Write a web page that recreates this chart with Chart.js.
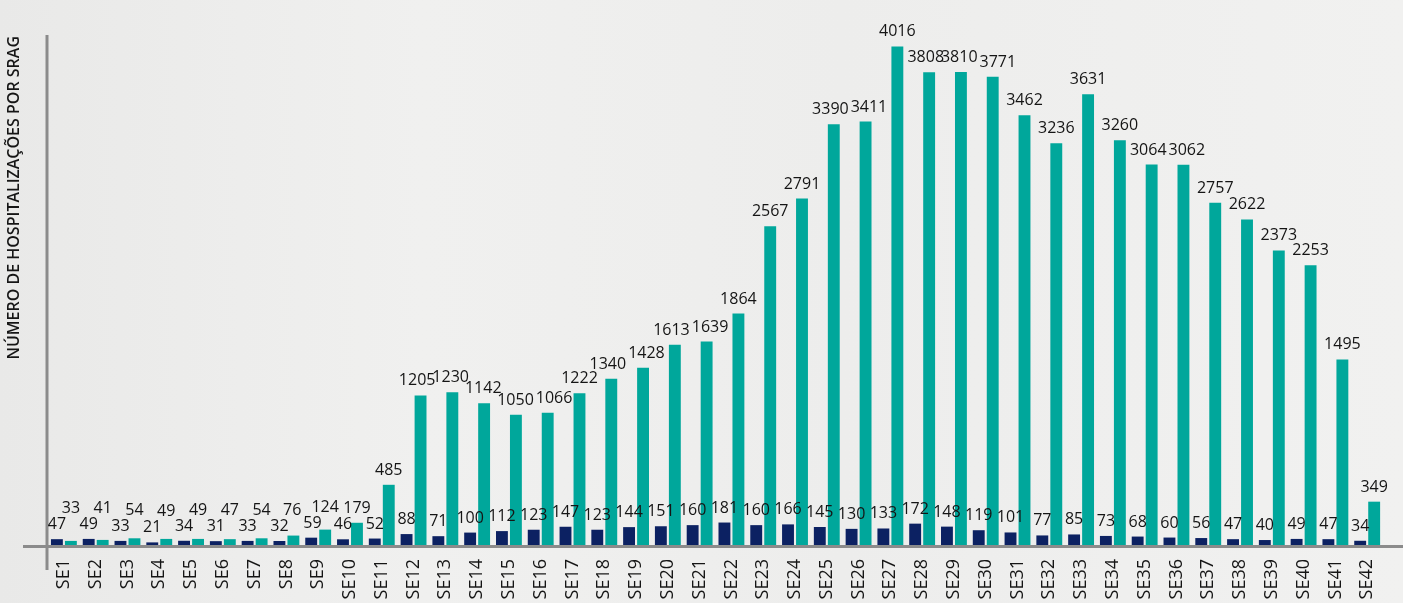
<!DOCTYPE html>
<html>
<head>
<meta charset="utf-8">
<script src="https://cdn.jsdelivr.net/npm/chart.js@4.4.1/dist/chart.umd.min.js"></script>
<style>
  html, body { margin: 0; padding: 0; }
  body {
    width: 1403px; height: 603px; overflow: hidden;
    background: linear-gradient(90deg, #e9e9e8 0%, #f0f0ef 30%, #ededec 60%, #f1f1f0 100%);
  }
  #wrap { position: relative; width: 1403px; height: 603px; }
</style>
</head>
<body>
<div id="wrap"><canvas id="myChart" width="1403" height="603"></canvas></div>
<script>
const weeks = [];
for (let i = 1; i <= 42; i++) weeks.push('SE' + i);

// barras azul-escuro
const seriesDark = [47, 49, 33, 21, 34, 31, 33, 32, 59, 46, 52, 88, 71, 100, 112, 123, 147, 123, 144, 151,
    160, 181, 160, 166, 145, 130, 133, 172, 148, 119, 101, 77, 85, 73, 68, 60, 56, 47, 40, 49, 47, 34];

// barras verdes
const seriesTeal = [33, 41, 54, 49, 49, 47, 54, 76, 124, 179, 485, 1205, 1230, 1142, 1050, 1066, 1222, 1340, 1428, 1613,
    1639, 1864, 2567, 2791, 3390, 3411, 4016, 3808, 3810, 3771, 3462, 3236, 3631, 3260, 3064, 3062, 2757, 2622, 2373, 2253, 1495, 349];

const yTitle = 'NÚMERO DE HOSPITALIZAÇÕES POR SRAG';

const axisColor = '#8b8b8b';

// eixos em cruz, como no original
const axisLines = {
    id: 'axisLines',
    afterDatasetsDraw(chart) {
        const {ctx, chartArea} = chart;
        ctx.save();
        ctx.strokeStyle = axisColor;
        ctx.lineWidth = 3;
        ctx.beginPath();
        ctx.moveTo(23, chartArea.bottom + 1.5);
        ctx.lineTo(chart.width, chartArea.bottom + 1.5);
        ctx.moveTo(chartArea.left - 1, chartArea.top - 1);
        ctx.lineTo(chartArea.left - 1, chartArea.bottom + 25);
        ctx.stroke();
        ctx.restore();
    }
};

// rótulos de valor sobre as barras (sobe ou empurra quando se sobrepõem)
const valueLabels = {
    id: 'valueLabels',
    afterDatasetsDraw(chart) {
        const {ctx} = chart;
        ctx.save();
        ctx.font = '16px "Open Sans"';
        ctx.fillStyle = '#151515';
        ctx.textAlign = 'center';
        ctx.textBaseline = 'alphabetic';

        const items = [];
        chart.data.labels.forEach((lab, j) => {
            chart.data.datasets.forEach((ds, i) => {
                const bar = chart.getDatasetMeta(i).data[j];
                const txt = String(ds.data[j]);
                items.push({txt, cat: j, x: bar.x, y: bar.y - 10, w: ctx.measureText(txt).width});
            });
        });

        items.forEach((it, k) => {
            for (let pass = 0; pass < 4; pass++) {
                let moved = false;
                for (let m = 0; m < k; m++) {
                    const p = items[m];
                    if (Math.abs(p.y - it.y) >= 13) continue;
                    const ov = (p.x + p.w / 2) - (it.x - it.w / 2);
                    if (ov <= 0) continue;
                    if (p.cat !== it.cat && ov <= 12) {
                        it.x += ov / 2 + 1;
                        p.x -= ov / 2 + 1;
                    } else {
                        it.y = p.y - 16;
                    }
                    moved = true;
                }
                if (!moved) break;
            }
        });

        items.forEach(it => ctx.fillText(it.txt, it.x, it.y));
        ctx.restore();
    }
};

const ctx = document.getElementById('myChart').getContext('2d');

const data = {
    labels: weeks,
    datasets: [
        {
            data: seriesDark,
            backgroundColor: '#0c2162',
            categoryPercentage: 0.88,
            barPercentage: 0.85
        },
        {
            data: seriesTeal,
            backgroundColor: '#00a79b',
            categoryPercentage: 0.88,
            barPercentage: 0.85
        }
    ]
};

const config = {
    type: 'bar',
    data: data,
    options: {
        responsive: false,
        animation: false,
        layout: {
            padding: {top: 36, right: 19, left: 0, bottom: 0}
        },
        plugins: {
            legend: {display: false},
            tooltip: {enabled: false}
        },
        scales: {
            x: {
                grid: {display: false, drawTicks: false},
                border: {display: false},
                ticks: {
                    minRotation: 90,
                    maxRotation: 90,
                    padding: 14,
                    color: '#151515',
                    font: {family: 'Open Sans', size: 18}
                },
                afterFit(scale) { scale.height = 58; }
            },
            y: {
                min: 0,
                max: 4100,
                grid: {display: false},
                border: {display: false},
                ticks: {display: false},
                title: {
                    display: true,
                    text: yTitle,
                    align: 'end',
                    color: '#151515',
                    font: {family: 'Open Sans', size: 16, weight: '600'},
                    padding: {top: 5, bottom: 0}
                },
                afterFit(scale) { scale.width = 48; }
            }
        }
    },
    plugins: [axisLines, valueLabels]
};

const myChart = new Chart(ctx, config);
</script>
</body>
</html>
